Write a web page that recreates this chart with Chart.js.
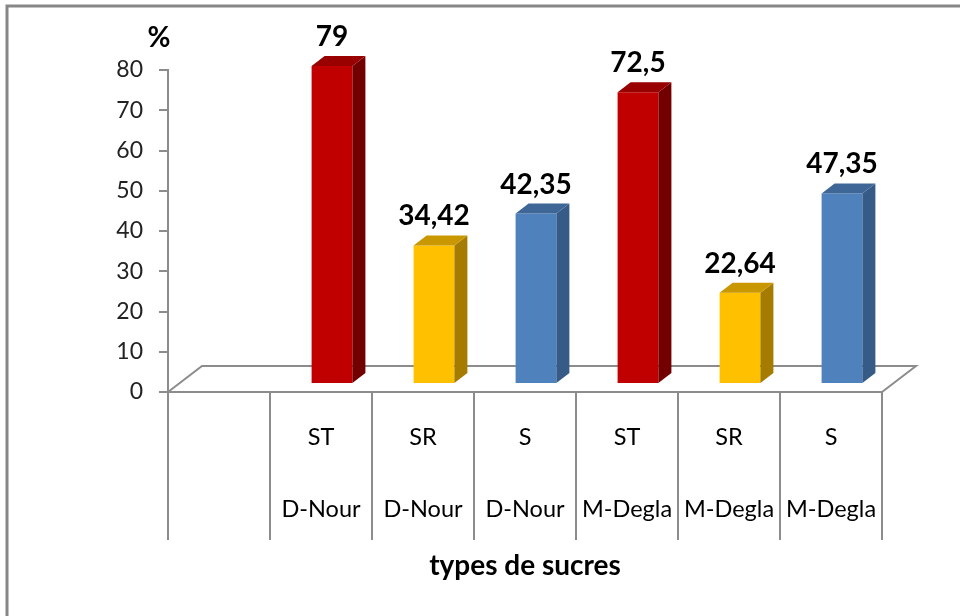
<!DOCTYPE html>
<html>
<head>
<meta charset="utf-8">
<script src="https://cdn.jsdelivr.net/npm/chart.js@4.4.1/dist/chart.umd.min.js"></script>
<style>
  html, body { margin: 0; background: #fff; }
  canvas { display: block; }
</style>
</head>
<body>
<canvas id="sugarChart" width="960" height="616"></canvas>
<script>
// Sugar content (%) per date variety; first slot is left empty
var sugarTypes = ['', 'ST', 'SR', 'S', 'ST', 'SR', 'S'];
var varieties  = ['', 'D-Nour', 'D-Nour', 'D-Nour', 'M-Degla', 'M-Degla', 'M-Degla'];
var contents   = [null, 79, 34.42, 42.35, 72.5, 22.64, 47.35];
var yTicks     = [0, 10, 20, 30, 40, 50, 60, 70, 80];

// front / top / side shades for each sugar type
var shades = {
  ST: ['#c00000', '#990000', '#720000'],
  SR: ['#ffc000', '#c99700', '#a67c00'],
  S:  ['#4f81bd', '#3e6798', '#375b87']
};

var FONT = 'Lato, "Open Sans", sans-serif';
var GREY = '#8c8c8c';

// floor depth and bar geometry for the fake 3D look
var FLOOR_DX = 34, FLOOR_DY = 26;
var SHIFT_X = 11, SHIFT_Y = 8;   // bars stand part-way into the floor
var BAR_DX = 13, BAR_DY = 10;    // bar thickness

function fmt(v) { return String(v).replace('.', ','); }

var pseudo3d = {
  id: 'pseudo3d',
  beforeDraw: function (chart) {
    var ctx = chart.ctx;
    ctx.save();
    ctx.strokeStyle = '#878787';
    ctx.lineWidth = 3;
    ctx.beginPath();
    ctx.moveTo(7, chart.height + 5);
    ctx.lineTo(7, 6);
    ctx.lineTo(chart.width + 5, 6);
    ctx.stroke();
    ctx.restore();
  },
  beforeDatasetsDraw: function (chart) {
    var a = chart.chartArea, ctx = chart.ctx;
    ctx.save();
    ctx.strokeStyle = GREY;
    ctx.lineWidth = 2;
    ctx.beginPath();
    ctx.moveTo(a.left, a.bottom);
    ctx.lineTo(a.left + FLOOR_DX, a.bottom - FLOOR_DY);
    ctx.lineTo(a.right + FLOOR_DX, a.bottom - FLOOR_DY);
    ctx.lineTo(a.right, a.bottom);
    ctx.stroke();
    ctx.restore();
    // bars are drawn in the shifted plane
    ctx.save();
    ctx.translate(SHIFT_X, -SHIFT_Y);
  },
  afterDatasetsDraw: function (chart) {
    var ctx = chart.ctx;
    var meta = chart.getDatasetMeta(0);
    meta.data.forEach(function (bar, i) {
      if (contents[i] == null) return;
      var c = shades[sugarTypes[i]];
      var p = bar.getProps(['x', 'y', 'base', 'width'], true);
      var l = p.x - p.width / 2, r = p.x + p.width / 2;
      // side face
      ctx.fillStyle = c[2];
      ctx.beginPath();
      ctx.moveTo(r, p.y);
      ctx.lineTo(r + BAR_DX, p.y - BAR_DY);
      ctx.lineTo(r + BAR_DX, p.base - BAR_DY);
      ctx.lineTo(r, p.base);
      ctx.closePath();
      ctx.fill();
      // top face
      ctx.fillStyle = c[1];
      ctx.beginPath();
      ctx.moveTo(l, p.y);
      ctx.lineTo(r, p.y);
      ctx.lineTo(r + BAR_DX, p.y - BAR_DY);
      ctx.lineTo(l + BAR_DX, p.y - BAR_DY);
      ctx.closePath();
      ctx.fill();
      // value label
      ctx.fillStyle = '#000';
      ctx.font = 'bold 28px ' + FONT;
      ctx.textAlign = 'center';
      ctx.textBaseline = 'alphabetic';
      ctx.fillText(fmt(contents[i]), p.x, p.y - BAR_DY - 10);
    });
    ctx.restore();
  },
  afterDraw: function (chart) {
    var ctx = chart.ctx;
    ctx.save();
    ctx.fillStyle = '#000';
    ctx.font = 'bold 28px ' + FONT;
    ctx.textAlign = 'center';
    ctx.textBaseline = 'alphabetic';
    ctx.fillText('%', 159, 47);
    ctx.restore();
  }
};

new Chart(document.getElementById('sugarChart'), {
  type: 'bar',
  data: {
    labels: sugarTypes.map(function (s, i) { return [s, varieties[i]]; }),
    datasets: [{
      data: contents,
      backgroundColor: sugarTypes.map(function (s) { return s ? shades[s][0] : 'transparent'; }),
      borderWidth: 0,
      barPercentage: 0.4,
      categoryPercentage: 1,
      clip: false
    }]
  },
  options: {
    responsive: false,
    animation: false,
    layout: { padding: { left: 0, top: 70, right: 78, bottom: 0 } },
    plugins: {
      legend: { display: false },
      tooltip: { enabled: false }
    },
    scales: {
      x: {
        offset: true,
        afterFit: function (scale) { scale.height = 224; },
        border: { display: true, color: GREY, width: 2 },
        grid: { drawOnChartArea: false, color: GREY, lineWidth: 2, tickLength: 148 },
        ticks: {
          autoSkip: false,
          maxRotation: 0,
          padding: -139,
          color: '#000',
          font: { family: FONT, size: 23.5, lineHeight: '72px' }
        },
        title: {
          display: true,
          text: 'types de sucres',
          color: '#000',
          font: { family: FONT, size: 28, weight: 'bold' },
          padding: { top: 0, bottom: 33 }
        }
      },
      y: {
        min: yTicks[0],
        max: yTicks[yTicks.length - 1],
        afterFit: function (scale) { scale.width = 168; },
        afterBuildTicks: function (scale) {
          scale.ticks = yTicks.map(function (v) { return { value: v }; });
        },
        border: { display: true, color: GREY, width: 2 },
        grid: { drawOnChartArea: false, color: GREY, lineWidth: 2, tickLength: 9 },
        ticks: {
          padding: 16,
          color: '#222',
          font: { family: FONT, size: 23 }
        }
      }
    }
  },
  plugins: [pseudo3d]
});
</script>
</body>
</html>
